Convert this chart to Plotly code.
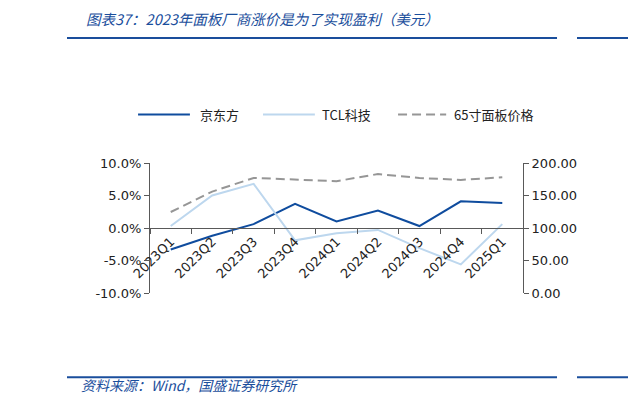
import plotly.graph_objects as go

# 数据
quarters = ["2023Q1", "2023Q2", "2023Q3", "2023Q4", "2024Q1",
            "2024Q2", "2024Q3", "2024Q4", "2025Q1"]
boe = [-3.3, -1.2, 0.6, 3.7, 1.0, 2.7, 0.3, 4.1, 3.85]
tcl = [0.3, 5.0, 6.8, -1.9, -0.8, -0.3, -3.1, -5.6, 0.6]
panel_65 = [124.6, 156, 177, 174, 172, 183, 177, 174, 178]

left_ticks = [-10, -5, 0, 5, 10]
left_labels = ["-10.0%", "-5.0%", "0.0%", "5.0%", "10.0%"]
right_ticks = [0, 50, 100, 150, 200]

blue = "#1A4E9C"
font_tick = dict(family="DejaVu Sans", size=13, color="#222222")

series = [
    ("京东方", boe, dict(color="#0F4C9E", width=2), "y"),
    ("TCL科技", tcl, dict(color="#BDD7EE", width=2), "y"),
    ("65寸面板价格", panel_65, dict(color="#969696", width=2, dash="9px,5px"), "y2"),
]

fig = go.Figure()
for name, vals, line, ax in series:
    fig.add_trace(go.Scatter(x=quarters, y=vals, name=name, mode="lines",
                             line=line, yaxis=ax))

# 页面有 8px 的默认边距，图尺寸相应缩小
fig.update_layout(
    width=628, height=402,
    margin=dict(l=142, r=113, t=155, b=117),
    paper_bgcolor="white", plot_bgcolor="white",
    showlegend=False,
    xaxis=dict(range=[-0.5, 8.5], anchor="free", position=0.5, showline=True,
               linecolor="#595959", linewidth=1, ticks="outside",
               tickson="boundaries", ticklen=5, tickcolor="#595959",
               tickangle=-45, tickfont=font_tick, showgrid=False, zeroline=False),
    yaxis=dict(range=[-10, 10], tickvals=left_ticks, ticktext=left_labels,
               showline=True, linecolor="#595959", ticks="outside", ticklen=5,
               tickcolor="#595959", tickfont=font_tick, showgrid=False,
               zeroline=False),
    yaxis2=dict(range=[0, 200], tickvals=right_ticks, tickformat=".2f",
                overlaying="y", side="right", showline=True, linecolor="#595959",
                ticks="outside", ticklen=5, tickcolor="#595959", tickfont=font_tick,
                showgrid=False, zeroline=False),
)

# 手动图例
leg_y = 1.373
leg_pos = [(-0.032, 0.107, 0.129), (0.303, 0.442, 0.456), (0.665, 0.794, 0.810)]
for (name, vals, line, ax), (x0, x1, xt) in zip(series, leg_pos):
    fig.add_shape(type="line", xref="paper", yref="paper", x0=x0, x1=x1,
                  y0=leg_y, y1=leg_y, line=line)
    fig.add_annotation(text=name, xref="paper", yref="paper", x=xt, y=leg_y,
                       xanchor="left", yanchor="middle", showarrow=False,
                       font=dict(family="Noto Sans CJK SC", size=13, color="#222222"))

# 标题、来源和分隔线
fig.add_annotation(text="<i>图表37：2023年面板厂商涨价是为了实现盈利（美元）</i>",
                   xref="paper", yref="paper", x=-0.177, y=2.115,
                   xanchor="left", yanchor="middle", showarrow=False,
                   font=dict(family="Noto Sans CJK SC", size=14.5, color=blue))
fig.add_annotation(text="<i>资料来源：Wind，国盛证券研究所</i>",
                   xref="paper", yref="paper", x=-0.19, y=-0.71,
                   xanchor="left", yanchor="middle", showarrow=False,
                   font=dict(family="Noto Sans CJK SC", size=14, color=blue))
for yy in [1.9625, -0.6485]:
    fig.add_shape(type="line", xref="paper", yref="paper", x0=-0.2225, x1=1.0912,
                  y0=yy, y1=yy, line=dict(color=blue, width=2))
    fig.add_shape(type="line", xref="paper", yref="paper", x0=1.1448, x1=1.31,
                  y0=yy, y1=yy, line=dict(color=blue, width=2))

fig.write_html("out.html")
